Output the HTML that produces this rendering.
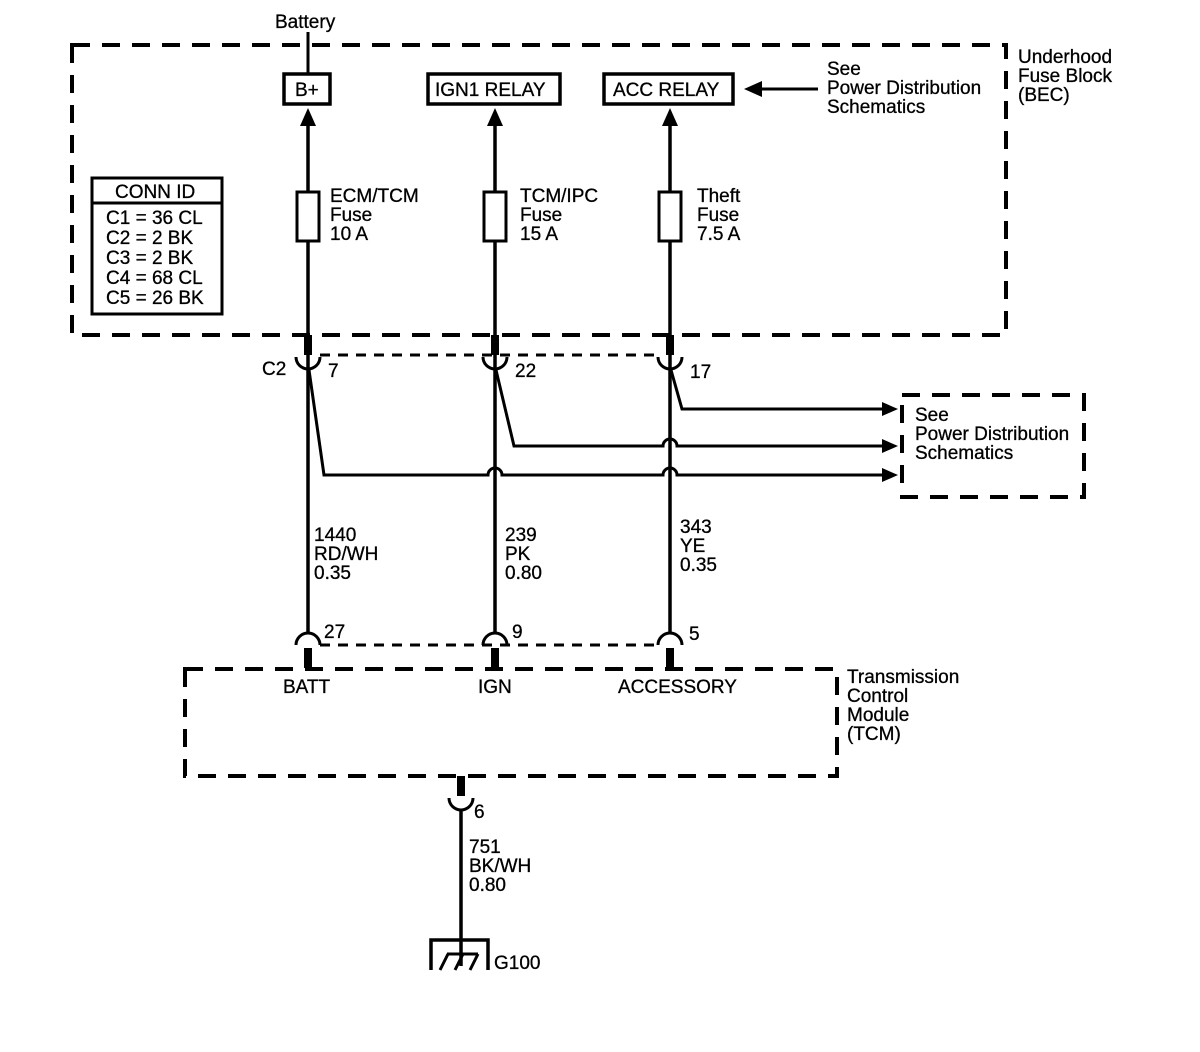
<!DOCTYPE html>
<html><head><style>html,body{margin:0;padding:0;background:#fff}svg{display:block}text{font-family:"Liberation Sans",Arial,sans-serif;font-size:19px;fill:#000;stroke:#000;stroke-width:0.3}</style></head><body>
<svg width="1200" height="1052" viewBox="0 0 1200 1052" xmlns="http://www.w3.org/2000/svg">
<g fill="none" stroke="#000" stroke-width="4">
<rect x="72" y="45" width="934" height="290" stroke-dasharray="18,12"/>
<rect x="902" y="395" width="182" height="102" stroke-dasharray="18,12"/>
<rect x="185" y="669" width="652" height="107" stroke-dasharray="18,12"/>
<line x1="320" y1="355" x2="662" y2="355" stroke-width="3" stroke-dasharray="10,8"/>
<line x1="320" y1="645" x2="662" y2="645" stroke-width="3" stroke-dasharray="10,8"/>
<rect x="284" y="74" width="46" height="30" stroke-width="3.5"/>
<rect x="428" y="74" width="132" height="30" stroke-width="3.5"/>
<rect x="604" y="74" width="129" height="30" stroke-width="3.5"/>
<rect x="92" y="178" width="130" height="136" stroke-width="3"/>
<line x1="92" y1="203" x2="222" y2="203" stroke-width="3"/>
<line x1="308" y1="32" x2="308" y2="74" stroke-width="3"/>
<line x1="818" y1="89" x2="760" y2="89" stroke-width="3"/>
<line x1="308" y1="124" x2="308" y2="634" stroke-width="3.5"/>
<line x1="495" y1="124" x2="495" y2="634" stroke-width="3.5"/>
<line x1="670" y1="124" x2="670" y2="634" stroke-width="3.5"/>
<rect x="297" y="192" width="22" height="49" fill="#fff" stroke-width="3"/>
<rect x="484" y="192" width="22" height="49" fill="#fff" stroke-width="3"/>
<rect x="659" y="192" width="22" height="49" fill="#fff" stroke-width="3"/>
<path d="M296 357 A12 12 0 0 0 320 357" stroke-width="3"/>
<path d="M483 357 A12 12 0 0 0 507 357" stroke-width="3"/>
<path d="M658 357 A12 12 0 0 0 682 357" stroke-width="3"/>
<path d="M309 370 L324 475 L488 475 A7 7 0 0 1 502 475 L663 475 A7 7 0 0 1 677 475 L885 475" stroke-width="3"/>
<path d="M496 370 L514 446 L663 446 A7 7 0 0 1 677 446 L885 446" stroke-width="3"/>
<path d="M671 370 L682 409 L885 409" stroke-width="3"/>
<path d="M296 645 A12 12 0 0 1 320 645" stroke-width="3"/>
<path d="M483 645 A12 12 0 0 1 507 645" stroke-width="3"/>
<path d="M658 645 A12 12 0 0 1 682 645" stroke-width="3"/>
<path d="M449 798 A12 12 0 0 0 473 798" stroke-width="3"/>
<line x1="461" y1="810" x2="461" y2="966" stroke-width="3.5"/>
<path d="M431 970 L431 940 L488 940 L488 970" stroke-width="3.5"/>
<path d="M440 970 L448 954 M455 970 L463 954 M470 970 L478 954 M447 954 L478 954" stroke-width="3"/>
</g>
<g fill="#000">
<rect x="304" y="335" width="8" height="20"/><rect x="491" y="335" width="8" height="20"/><rect x="666" y="335" width="8" height="20"/>
<rect x="304" y="648" width="8" height="20"/><rect x="491" y="648" width="8" height="20"/><rect x="666" y="648" width="8" height="20"/>
<rect x="457" y="776" width="8" height="20"/>
<polygon points="300,126 316,126 308,108"/><polygon points="487,126 503,126 495,108"/><polygon points="662,126 678,126 670,108"/>
<polygon points="744,89 762,81 762,97"/>
<polygon points="898,409 882,402 882,416"/><polygon points="898,446 882,439 882,453"/><polygon points="898,475 882,468 882,482"/>
</g>
<text x="275" y="28">Battery</text>
<text x="295" y="96">B+</text>
<text x="435" y="96">IGN1 RELAY</text>
<text x="613" y="96">ACC RELAY</text>
<text x="827" y="75">See</text><text x="827" y="94">Power Distribution</text><text x="827" y="113">Schematics</text>
<text x="1018" y="63">Underhood</text><text x="1018" y="82">Fuse Block</text><text x="1018" y="101">(BEC)</text>
<text x="115" y="198">CONN ID</text>
<text x="106" y="224">C1 = 36 CL</text><text x="106" y="244">C2 = 2 BK</text><text x="106" y="264">C3 = 2 BK</text><text x="106" y="284">C4 = 68 CL</text><text x="106" y="304">C5 = 26 BK</text>
<text x="330" y="202">ECM/TCM</text><text x="330" y="221">Fuse</text><text x="330" y="240">10 A</text>
<text x="520" y="202">TCM/IPC</text><text x="520" y="221">Fuse</text><text x="520" y="240">15 A</text>
<text x="697" y="202">Theft</text><text x="697" y="221">Fuse</text><text x="697" y="240">7.5 A</text>
<text x="262" y="375">C2</text><text x="328" y="377">7</text><text x="515" y="377">22</text><text x="690" y="378">17</text>
<text x="915" y="421">See</text><text x="915" y="440">Power Distribution</text><text x="915" y="459">Schematics</text>
<text x="314" y="541">1440</text><text x="314" y="560">RD/WH</text><text x="314" y="579">0.35</text>
<text x="505" y="541">239</text><text x="505" y="560">PK</text><text x="505" y="579">0.80</text>
<text x="680" y="533">343</text><text x="680" y="552">YE</text><text x="680" y="571">0.35</text>
<text x="324" y="638">27</text><text x="512" y="638">9</text><text x="689" y="640">5</text>
<text x="283" y="693">BATT</text><text x="478" y="693">IGN</text><text x="618" y="693">ACCESSORY</text>
<text x="847" y="683">Transmission</text><text x="847" y="702">Control</text><text x="847" y="721">Module</text><text x="847" y="740">(TCM)</text>
<text x="474" y="818">6</text>
<text x="469" y="853">751</text><text x="469" y="872">BK/WH</text><text x="469" y="891">0.80</text>
<text x="494" y="969">G100</text>
</svg>
</body></html>
